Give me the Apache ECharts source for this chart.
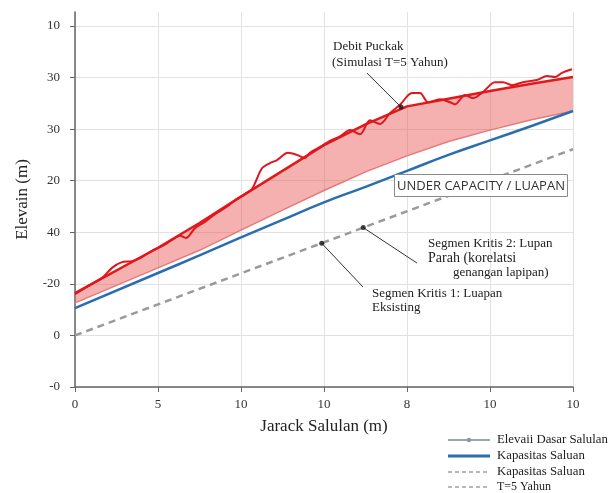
<!DOCTYPE html>
<html><head><meta charset="utf-8">
<script src="https://cdn.jsdelivr.net/npm/echarts@6/dist/echarts.min.js"></script>
<style>html,body{margin:0;padding:0;background:#fff}#c{width:609px;height:493px}</style>
</head><body><div id="c"></div>
<script>
// ---- data (axis positions; tick labels as printed on the figure) ----
const xTickLabels = ['0','5','10','10','8','10','10'];
const yTickLabels = ['-0','0','-20','40','20','30','30','10'];
const bandX     = [0, 1, 1.5, 2, 2.5, 3, 3.5, 4, 4.5, 5, 5.5, 6];
const upperFlow = [1.82, 2.70, 3.18, 3.69, 4.19, 4.69, 5.09, 5.44, 5.59, 5.74, 5.88, 6.01];
const lowerFlow = [1.63, 2.31, 2.65, 3.04, 3.43, 3.81, 4.17, 4.48, 4.76, 4.98, 5.18, 5.35];
const capacityY = [1.53, 2.21, 2.55, 2.90, 3.24, 3.58, 3.88, 4.19, 4.50, 4.78, 5.06, 5.35];
const t5X = [0, 6];
const t5Y = [1.0, 4.61];
const jaggedX = [0,0.181,0.337,0.446,0.566,0.687,0.807,0.928,1.048,1.169,1.265,1.337,1.446,1.566,1.687,1.807,1.928,2.048,2.133,2.253,2.349,2.434,2.566,2.675,2.771,2.831,2.928,3.072,3.193,3.313,3.434,3.554,3.675,3.795,3.916,4.060,4.157,4.253,4.398,4.518,4.578,4.699,4.795,4.916,5.060,5.157,5.265,5.398,5.566,5.687,5.783,5.867,5.988];
const jaggedY = [1.80,1.98,2.13,2.31,2.42,2.44,2.52,2.64,2.73,2.85,2.93,2.89,3.08,3.20,3.35,3.47,3.62,3.74,3.84,4.24,4.34,4.40,4.54,4.50,4.44,4.54,4.63,4.77,4.86,4.98,4.90,5.17,5.10,5.31,5.47,5.70,5.70,5.52,5.58,5.52,5.48,5.66,5.60,5.72,5.91,5.91,5.85,5.91,5.95,6.03,6.01,6.09,6.16];
const pointsX = [2.972, 3.473, 3.928];
const pointsY = [2.788, 3.09, 5.426];
const leaderEndX = [3.470, 4.120, 3.518];
const leaderEndY = [1.938, 2.403, 6.085];

const zip = (a, b) => a.map((v, i) => [v, b[i]]);
const serif = '"Liberation Serif","DejaVu Serif",serif';

const chart = echarts.init(document.getElementById('c'), null, {renderer: 'canvas'});
const option = {
  animation: false,
  backgroundColor: '#fff',
  grid: {left: 75, right: 36, top: 12, bottom: 106},
  xAxis: {
    type: 'value', min: 0, max: 6, interval: 1,
    name: 'Jarack Salulan (m)', nameLocation: 'middle', nameGap: 31,
    nameTextStyle: {fontFamily: serif, fontSize: 17, color: '#222'},
    axisLine: {lineStyle: {color: '#666', width: 1.5}},
    axisTick: {show: true, length: 5, lineStyle: {color: '#666'}},
    axisLabel: {fontFamily: serif, fontSize: 13, color: '#333', margin: 11,
      formatter: v => xTickLabels[Math.round(v)] ?? ''},
    splitLine: {show: true, lineStyle: {color: '#e2e2e2', width: 1}}
  },
  yAxis: {
    type: 'value', min: 0, max: 7.27, interval: 1,
    name: 'Elevain (m)', nameLocation: 'middle', nameGap: 44,
    nameTextStyle: {fontFamily: serif, fontSize: 17, color: '#222'},
    axisLine: {show: true, lineStyle: {color: '#666', width: 1.5}},
    axisTick: {show: true, length: 5, lineStyle: {color: '#666'}, customValues: [0,1,2,3,4,5,6,7]},
    axisLabel: {fontFamily: serif, fontSize: 13, color: '#333', margin: 15,
      customValues: [0,1,2,3,4,5,6,7],
      formatter: v => yTickLabels[Math.round(v)] ?? ''},
    splitLine: {show: true, lineStyle: {color: '#e2e2e2', width: 1}}
  },
  series: [
    {name: 'band', type: 'custom', data: [[0, 0]], z: 1, silent: true,
     renderItem: (params, api) => {
       const pts = [];
       bandX.forEach((x, i) => pts.push(api.coord([x, upperFlow[i]])));
       for (let i = bandX.length - 1; i >= 0; i--) pts.push(api.coord([bandX[i], lowerFlow[i]]));
       return {type: 'polygon', shape: {points: pts}, style: {fill: 'rgba(232,80,80,0.45)', stroke: null}};
     }},
    {name: 'lowerFlow', type: 'line', symbol: 'none',
     data: zip(bandX, lowerFlow), lineStyle: {color: '#e57a7a', width: 1.5}, z: 2},
    {name: 'Kapasitas Saluan', type: 'line', smooth: true, symbol: 'none',
     data: zip(bandX, capacityY), lineStyle: {color: '#2c6db0', width: 2.5}, z: 4},
    {name: 'T=5 Yahun', type: 'line', symbol: 'none',
     data: zip(t5X, t5Y), lineStyle: {color: '#9a9a9a', width: 2.5, type: [7, 5]}, z: 4},
    {name: 'upperFlow', type: 'line', symbol: 'none',
     data: zip(bandX, upperFlow), lineStyle: {color: '#df1a1a', width: 2.5}, z: 5},
    {name: 'Debit Puckak', type: 'line', smooth: 0.3, symbol: 'none',
     data: zip(jaggedX, jaggedY), lineStyle: {color: '#e3141c', width: 2}, z: 5},
    {name: 'points', type: 'scatter', symbol: 'circle', symbolSize: 5,
     data: zip(pointsX, pointsY), itemStyle: {color: '#111'}, z: 7}
  ]
};
chart.setOption(option);

// annotations placed through the chart's own coordinate conversion
const px = (x, y) => chart.convertToPixel({gridIndex: 0}, [x, y]);
const graphics = [];
pointsX.forEach((x, i) => {
  const a = px(x, pointsY[i]);
  const b = px(leaderEndX[i], leaderEndY[i]);
  graphics.push({type: 'line', shape: {x1: a[0], y1: a[1], x2: b[0], y2: b[1]},
    style: {stroke: '#333', lineWidth: 1}, z: 6});
});
const txt = (x, y, s, size) => graphics.push({type: 'text', x: x, y: y,
  style: {text: s, font: (size || 13) + 'px ' + serif, fill: '#222', textVerticalAlign: 'middle'}, z: 10});
txt(333, 47, 'Debit Puckak');
txt(332, 63, '(Simulasi T=5 Yahun)');
txt(428, 244, 'Segmen Kritis 2: Lupan');
txt(428, 258, 'Parah (korelatsi', 14);
txt(453, 273, 'genangan lapipan)');
txt(372, 294, 'Segmen Kritis 1: Luapan');
txt(372, 308, 'Eksisting');
// box label
graphics.push({type: 'rect', shape: {x: 394.5, y: 174.5, width: 173, height: 22},
  style: {fill: '#fff', stroke: '#8a8a8a', lineWidth: 1}, z: 8});
graphics.push({type: 'text', x: 481, y: 186, style: {text: 'UNDER CAPACITY / LUAPAN',
  font: '13px "Open Sans","Liberation Sans",sans-serif', fill: '#333', textAlign: 'center', textVerticalAlign: 'middle'}, z: 9});
// legend
const legendRows = [
  {y: 440, label: 'Elevaii Dasar Salulan', color: '#9aa4b3', width: 2, dash: null, dot: true, size: 12.8},
  {y: 456, label: 'Kapasitas Saluan', color: '#2c6db0', width: 3, dash: null, size: 12.8},
  {y: 472, label: 'Kapasitas Saluan', color: '#a0a0a0', width: 1.5, dash: [4, 3], size: 12.8},
  {y: 487, label: 'T=5 Yahun', color: '#a0a0a0', width: 1.5, dash: [4, 3], size: 12}
];
legendRows.forEach(r => {
  graphics.push({type: 'line', shape: {x1: 448, y1: r.y, x2: 490, y2: r.y},
    style: {stroke: r.color, lineWidth: r.width, lineDash: r.dash}, z: 10});
  if (r.dot) graphics.push({type: 'circle', shape: {cx: 469, cy: r.y, r: 2.2}, style: {fill: '#8a94a5'}, z: 11});
  graphics.push({type: 'text', x: 497, y: r.y, style: {text: r.label, font: r.size + 'px ' + serif,
    fill: '#222', textVerticalAlign: 'middle'}, z: 10});
});
chart.setOption({graphic: graphics});
</script>
</body></html>
